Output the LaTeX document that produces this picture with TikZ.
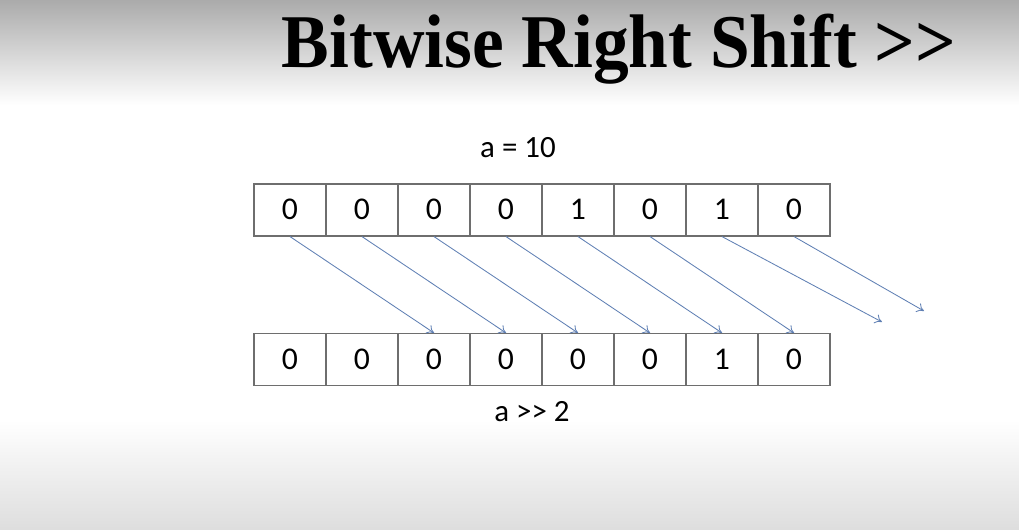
\documentclass[tikz,border=0pt]{standalone}
\usepackage{fontspec}
\setmainfont{Carlito}
\newfontfamily\titlefont{Liberation Serif}
\usetikzlibrary{arrows.meta}
\definecolor{ar}{RGB}{96,128,180}
\definecolor{bx}{RGB}{110,110,110}
\tikzset{
  bit/.style={draw=bx,thick,minimum width=1.8cm,minimum height=1.3cm,inner sep=0pt,text height=14pt,text depth=0pt,font=\fontsize{22.5}{26}\selectfont},
  shiftarrow/.style={ar,semithick,-{To[length=5pt,width=7pt]}},
  lbl/.style={font=\fontsize{22}{26}\selectfont}
}

\begin{document}
\begin{tikzpicture}[x=0.025cm,y=-0.025cm]
            \useasboundingbox (0,0) rectangle (1019,529);
            \fill[white] (0,0) rectangle (1019,529);
            \shade[top color=black!33,bottom color=white] (0,0) rectangle (1019,105);
            \shade[top color=white,bottom color=black!13] (0,420) rectangle (1019,529);
            \node[anchor=base] (title) at (619,67) {\scalebox{0.94}[1]{\titlefont\bfseries\fontsize{54}{60}\selectfont Bitwise Right Shift >{}>}};
            \node[lbl] (a) at (518,148) {a = 10};
            \foreach \v [count=\i from 0] in {0,0,0,0,1,0,1,0}
                \node[bit] (t\i) at (290+72*\i,210) {\v};
            \foreach \v [count=\i from 0] in {0,0,0,0,0,0,1,0}
                \node[bit] (b\i) at (290+72*\i,359.5) {\v};
            \node[lbl] (res) at (532,412) {a >{}> 2};
            \foreach \i [evaluate=\i as \j using int(\i+2)] in {0,...,5}
                \draw[shiftarrow] (t\i.south) -- (b\j.north);
            \coordinate (e6) at (882,322);
            \coordinate (e7) at (924,311);
            \draw[shiftarrow] (t6.south) -- (e6);
            \draw[shiftarrow] (t7.south) -- (e7);
        \end{tikzpicture}
\end{document}
